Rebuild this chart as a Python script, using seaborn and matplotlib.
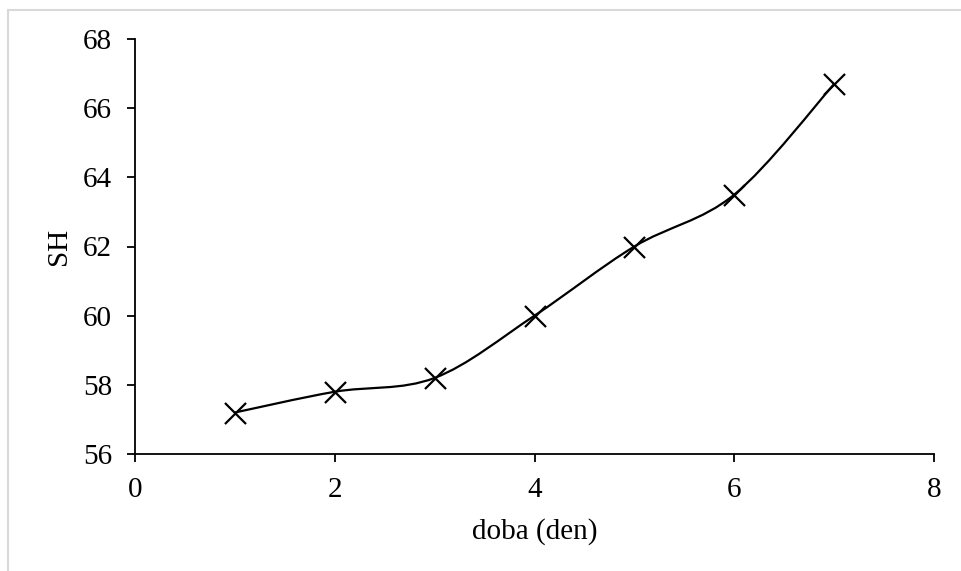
import numpy as np
import pandas as pd
import matplotlib
matplotlib.use("Agg")
import matplotlib.pyplot as plt
from matplotlib.path import Path
from matplotlib.patches import PathPatch
from matplotlib.lines import Line2D
import seaborn as sns

# Data
days = [1, 2, 3, 4, 5, 6, 7]
sh_values = [57.2, 57.8, 58.2, 60.0, 62.0, 63.5, 66.7]
x_ticks = [0, 2, 4, 6, 8]
y_ticks = [56, 58, 60, 62, 64, 66, 68]
x_label = "doba (den)"
y_label = "SH"

sns.set_style("white", {"text.color": "black", "axes.labelcolor": "black",
                        "xtick.color": "black", "ytick.color": "black"})
plt.rcParams['font.family'] = ['Liberation Serif', 'DejaVu Serif']

df = pd.DataFrame({"doba": days, "SH": sh_values})

fig = plt.figure(figsize=(9.61, 5.71), dpi=100)
ax = fig.add_axes([135/961, 1-454/571, (934-135)/961, (454-39)/571])

# Excel-like smoothed line (Catmull-Rom -> cubic Bezier segments in data space)
xs = np.array(days, dtype=float)
ys = np.array(sh_values, dtype=float)
verts = [(xs[0], ys[0])]
codes = [Path.MOVETO]
n = len(xs)
for i in range(n - 1):
    p0 = np.array([xs[max(i-1, 0)], ys[max(i-1, 0)]])
    p1 = np.array([xs[i], ys[i]])
    p2 = np.array([xs[i+1], ys[i+1]])
    p3 = np.array([xs[min(i+2, n-1)], ys[min(i+2, n-1)]])
    c1 = p1 + (p2 - p0) / 6.0
    c2 = p2 - (p3 - p1) / 6.0
    verts += [tuple(c1), tuple(c2), tuple(p2)]
    codes += [Path.CURVE4] * 3
patch = PathPatch(Path(verts, codes), facecolor='none', edgecolor='black', lw=1.6, zorder=2)
ax.add_patch(patch)

sns.scatterplot(data=df, x="doba", y="SH", ax=ax, marker='x', s=230,
                color='black', linewidth=1.6, zorder=3, legend=False)

ax.set_xlim(0, 8)
ax.set_ylim(56, 68)
ax.set_xticks(x_ticks)
ax.set_yticks(y_ticks)
ax.set_xticklabels([str(v) for v in x_ticks])
ax.set_yticklabels([str(v) for v in y_ticks])
ax.tick_params(axis='both', direction='out', length=6, width=1.3, colors='black',
               labelsize=21, pad=10.5, bottom=True, left=True)
for s in ['top', 'right']:
    ax.spines[s].set_visible(False)
for s in ['left', 'bottom']:
    ax.spines[s].set_color('black')
    ax.spines[s].set_linewidth(1.3)
ax.set_xlabel(x_label, fontsize=21, labelpad=11, color='black')
ax.set_ylabel(y_label, fontsize=21, labelpad=8, color='black')
ax.grid(False)

# light gray outer border (left and top)
fig.add_artist(Line2D([7.5/961, 7.5/961], [0, 1-9.5/571], transform=fig.transFigure, color='#d9d9d9', lw=1.5))
fig.add_artist(Line2D([7.5/961, 1], [1-9.5/571, 1-9.5/571], transform=fig.transFigure, color='#d9d9d9', lw=1.5))

fig.savefig("out.png", dpi=100)
